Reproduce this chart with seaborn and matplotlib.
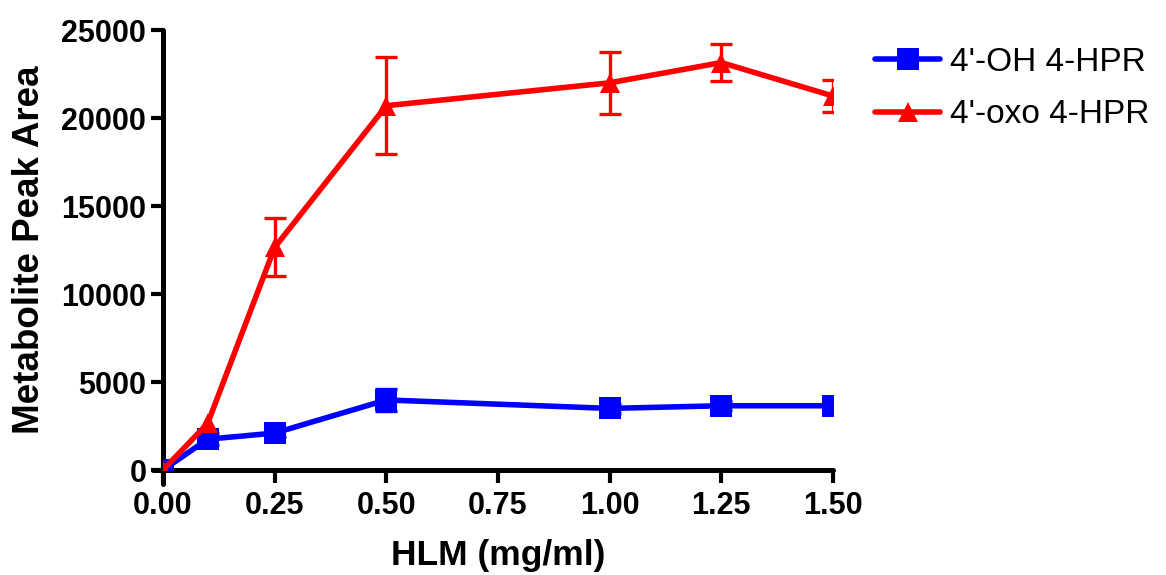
import numpy as np
import pandas as pd
import matplotlib
matplotlib.use("Agg")
import matplotlib.pyplot as plt
import seaborn as sns

# HLM concentration (mg/ml)
hlm = [0.0, 0.1, 0.25, 0.5, 1.0, 1.25, 1.5]

# Metabolite peak areas (mean and SD)
oh_mean = [0, 1750, 2100, 3980, 3500, 3650, 3650]
oh_sd = [0, 350, 250, 600, 250, 250, 250]
oxo_mean = [0, 2650, 12650, 20700, 22000, 23150, 21250]
oxo_sd = [0, 0, 1650, 2750, 1750, 1050, 900]

series_names = ["4'-OH 4-HPR", "4'-oxo 4-HPR"]
colors = {"4'-OH 4-HPR": "#0000ff", "4'-oxo 4-HPR": "#ff0000"}
markers = {"4'-OH 4-HPR": "s", "4'-oxo 4-HPR": "^"}
marker_sizes = {"s": 15.5, "^": 15}

df = pd.DataFrame({
    "HLM": hlm * 2,
    "area": oh_mean + oxo_mean,
    "sd": oh_sd + oxo_sd,
    "series": [series_names[0]] * len(hlm) + [series_names[1]] * len(hlm),
})

sns.set_theme(style="ticks")
plt.rcParams["font.family"] = ["Liberation Sans", "DejaVu Sans"]
plt.rcParams.update({"text.color": "black", "axes.labelcolor": "black",
                     "xtick.color": "black", "ytick.color": "black"})

fig = plt.figure(figsize=(11.66, 5.75), dpi=100)
ax = fig.add_axes([0.1398, 0.1826, 0.5746, 0.7652])

sns.lineplot(data=df, x="HLM", y="area", hue="series", style="series",
             palette=colors, markers=markers, dashes=False, linewidth=4,
             markeredgewidth=0, ax=ax, zorder=3)
for line in ax.get_lines():
    m = line.get_marker()
    if m in marker_sizes:
        line.set_markersize(marker_sizes[m])

# Error bars (SD); points with no spread get none
for name in series_names:
    sub = df[(df["series"] == name) & (df["sd"] > 0)]
    ax.errorbar(sub["HLM"], sub["area"], yerr=sub["sd"], fmt="none",
                ecolor=colors[name], elinewidth=2.4, capsize=8,
                capthick=2.4, zorder=2)

ax.set_xlim(0, 1.5)
ax.set_ylim(0, 25000)
xt = [0, 0.25, 0.5, 0.75, 1.0, 1.25, 1.5]
ax.set_xticks(xt)
ax.set_xticklabels([f"{v:.2f}" for v in xt])
ax.set_yticks([0, 5000, 10000, 15000, 20000, 25000])

for side in ["top", "right"]:
    ax.spines[side].set_visible(False)
for side in ["left", "bottom"]:
    ax.spines[side].set_linewidth(3.6)
    ax.spines[side].set_color("black")
    ax.spines[side].set_capstyle("round")
ax.spines["left"].set_bounds(-800, 25000)
ax.spines["bottom"].set_bounds(-0.022, 1.5)

ax.tick_params(axis="both", which="major", length=9, width=3, color="black",
               labelcolor="black", labelsize=22)
ax.tick_params(axis="x", pad=6)
ax.tick_params(axis="y", pad=3)
for lab in ax.get_xticklabels() + ax.get_yticklabels():
    lab.set_fontweight("bold")

ax.set_xlabel("HLM (mg/ml)", fontsize=25.5, fontweight="bold", labelpad=13,
              color="black")
ax.set_ylabel("Metabolite Peak Area", fontsize=26.5, fontweight="bold",
              labelpad=10, color="black")

handles, labels = ax.get_legend_handles_labels()
leg = ax.legend(handles, labels, loc="center left",
                bbox_to_anchor=(1.063, 0.867), frameon=False,
                fontsize=24, handlelength=1.95, handletextpad=0.3,
                labelspacing=0.65, borderaxespad=0, borderpad=0)
for text in leg.get_texts():
    text.set_color("black")
for line in leg.get_lines():
    line.set_linewidth(4)
    m = line.get_marker()
    if m in marker_sizes:
        line.set_markersize(marker_sizes[m])

fig.savefig("out.png", dpi=100)
